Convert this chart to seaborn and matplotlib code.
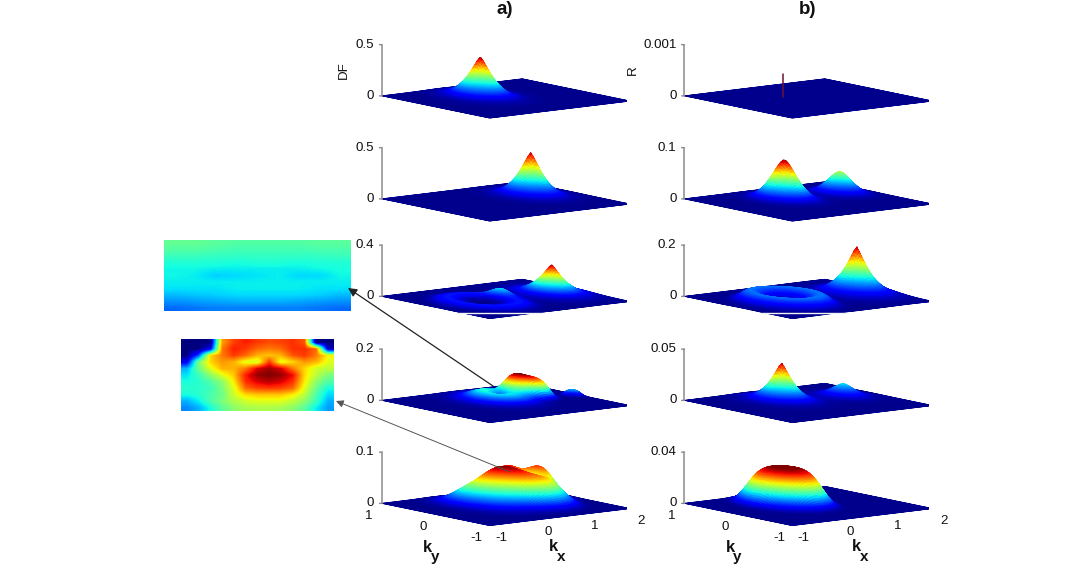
import numpy as np
import seaborn as sns
import matplotlib
matplotlib.use("Agg")
import matplotlib.pyplot as plt
from mpl_toolkits.mplot3d import proj3d

sns.set_theme(style="white")
plt.rcParams['font.family'] = ['Liberation Sans', 'DejaVu Sans']

JET = matplotlib.colormaps["jet"]

# ---- values ----
panel_names = ["a1", "a2", "a3", "a4", "a5", "b1", "b2", "b3", "b4", "b5"]
z_top = [0.5, 0.5, 0.4, 0.2, 0.1, 0.001, 0.1, 0.2, 0.05, 0.04]
z_top_label = ["0.5", "0.5", "0.4", "0.2", "0.1", "0.001", "0.1", "0.2", "0.05", "0.04"]
kx_ticks = [-1, 0, 1, 2]
ky_ticks = [-1, 0, 1]

# NOTE: the original surface data is not available. Each surface is an approximation:
# a sum of peaks, rings and dips whose position, height and width were estimated by eye
# from the picture, then adjusted to match it. They are not measured values.
# One row per visible feature of a surface.
bump_panel = ["a1", "a2",
              "a3", "a3", "a3",
              "a4", "a4", "a4", "a4", "a4",
              "a5", "a5", "a5", "a5", "a5", "a5",
              "b2", "b2",
              "b3", "b3", "b3",
              "b4", "b4",
              "b5"]
bump_kx = [.25, 1.2,
           1.44, -.1, .5,
           1.15, .7, 1.82, .5, .52,
           .9, 1.12, .1, 1.0, .3, 1.5,
           .28, 1.4,
           1.47, -.1, -.1,
           .27, 1.36,
           .26]
bump_ky = [.26, .15,
           -.03, -.1, .09,
           .18, .25, -.09, .2, .17,
           .05, .08, .35, .45, 0, .2,
           .26, .2,
           -.05, -.1, -.1,
           .3, .1,
           .23]
bump_height = [.39, .42,
               .23, .03, .05,
               .075, .012, .025, .03, -.018,
               .06, -.024, .025, .012, .03, .034,
               .078, .044,
               .185, .04, .012,
               .037, .013,
               .029]
bump_width = [.24, .23,
              .24, .22, .18,
              .34, .22, .14, .45, .14,
              .62, .17, .35, .3, .4, .25,
              .26, .25,
              .24, .2, .4,
              .22, .24,
              .57]
bump_radius = [0, 0,
               0, .5, 0,
               0, .28, 0, 0, 0,
               0, 0, 0, 0, 0, 0,
               0, 0,
               0, .5, 0,
               0, 0,
               0]
bump_power = [1.3, 1.3,
              1.2, 2, 2,
              4, 2, 3, 2, 2,
              3.5, 2, 2, 2, 2, 2,
              1.6, 1.7,
              1.2, 2, 2,
              1.25, 1.5,
              4]

spike_kx, spike_ky, spike_height = [.25], [.26], [.00045]

# inset colours, as estimated positions on the jet scale
inset_top = np.array([
    [.47, .47, .46, .45, .45, .45, .45, .46, .46],
    [.45, .45, .44, .43, .43, .43, .43, .44, .44],
    [.42, .42, .41, .41, .41, .41, .41, .41, .42],
    [.39, .39, .39, .38, .39, .39, .38, .39, .39],
    [.37, .37, .36, .36, .36, .36, .36, .37, .38],
    [.37, .36, .33, .34, .35, .36, .34, .34, .37],
    [.36, .36, .36, .36, .36, .36, .36, .36, .36],
    [.35, .35, .35, .36, .36, .36, .36, .35, .35],
    [.31, .32, .33, .34, .34, .34, .34, .33, .31],
    [.27, .28, .29, .30, .30, .30, .29, .28, .27],
    [.23, .24, .25, .25, .25, .25, .25, .24, .23]])
inset_low = np.array([
    [0, 0, 0, .74, .84, .88, .85, .83, .84, .86, .82, 0, 0],
    [0, 0, .1, .78, .88, .85, .8, .78, .8, .86, .86, .8, .05],
    [0, .2, .68, .78, .85, .8, .72, .7, .72, .82, .85, .78, .65],
    [.1, .5, .68, .75, .72, .62, .6, .85, .62, .68, .75, .72, .62],
    [.3, .48, .62, .72, .72, .78, .92, .97, .92, .78, .68, .6, .58],
    [.35, .42, .52, .62, .7, .88, .98, 1, .98, .9, .68, .58, .5],
    [.38, .4, .45, .52, .66, .86, .92, .95, .92, .86, .66, .52, .45],
    [.4, .4, .42, .5, .62, .8, .84, .85, .84, .8, .62, .48, .38],
    [.38, .4, .44, .48, .6, .68, .7, .7, .7, .66, .58, .44, .34],
    [.3, .36, .44, .5, .56, .6, .62, .62, .62, .58, .52, .42, .3],
    [.26, .3, .38, .46, .52, .55, .56, .56, .55, .52, .46, .36, .28]])

# ---- layout (pixels of the 1086x574 picture) ----
W, H = 1086, 574
fig = plt.figure(figsize=(W / 100, H / 100), dpi=100, facecolor="white")
SIDE = 248.0
COL_X = {"a": 382.0, "b": 684.5}
ROW_Y = {"1": 96.0, "2": 199.0, "3": 296.5, "4": 400.5, "5": 503.5}
TXT = "#111111"
TICK_FS = 9.6
kx_grid = np.linspace(-1, 2, 121)
ky_grid = np.linspace(-1, 1, 81)
KX, KY = np.meshgrid(kx_grid, ky_grid)


def surface(name):
    Z = np.zeros_like(KX)
    for i, p in enumerate(bump_panel):
        if p != name:
            continue
        r = np.hypot(KX - bump_kx[i], KY - bump_ky[i])
        Z += bump_height[i] * np.exp(-(np.abs(r - bump_radius[i]) / bump_width[i]) ** bump_power[i])
    return np.clip(Z, 0, None)


def label3d(ax, x, y, z, text, dx, dy, **kw):
    px, py, _ = proj3d.proj_transform(x, y, z, ax.get_proj())
    ax.annotate(text, xy=(px, py), xycoords="data", xytext=(dx, dy),
                textcoords="offset pixels", color=TXT, annotation_clip=False, **kw)


for name, ztop, ztl in zip(panel_names, z_top, z_top_label):
    cx = COL_X[name[0]] + 124
    cy = ROW_Y[name[1]] + 2.35 - 25.5
    left = cx - 0.5135 * SIDE
    bottom = cy + 0.5135 * SIDE
    ax = fig.add_axes([left / W, 1 - bottom / H, SIDE / W, SIDE / H],
                      projection="3d", proj_type="ortho", computed_zorder=False)
    ax.view_init(elev=9.1, azim=-127.5)
    ax.set_box_aspect((176, 176, 51.6))
    ax.set_xlim(-1, 2)
    ax.set_ylim(-1, 1)
    ax.set_zlim(0, ztop)
    ax.set_axis_off()
    ax.patch.set_alpha(0)

    Z = surface(name)
    vmax = Z.max() if Z.max() > 0 else ztop
    ax.plot_surface(KX, KY, Z, facecolors=JET(0.012 + 0.988 * Z / vmax), rstride=1, cstride=1,
                    linewidth=0.6, antialiased=True, shade=False, zorder=1)
    if name == "b1":
        ax.plot([spike_kx[0]] * 2, [spike_ky[0]] * 2, [0, spike_height[0]],
                color="#6d1238", lw=1.1, zorder=2)

    ax.plot([-1, -1], [1, 1], [0, ztop], color="#8c8c8c", lw=1.1, zorder=3)
    for zt, zl in ((0, "0"), (ztop, ztl)):
        ax.plot([-1, -1.04], [1, 1.02], [zt, zt], color="#8c8c8c", lw=1.0, zorder=3)
        label3d(ax, -1, 1, zt, zl, -8, 0, ha="right", va="center", fontsize=TICK_FS)
    if name[1] == "1":
        label3d(ax, -1, 1, ztop / 2, "DF" if name[0] == "a" else "R",
                -38 if name[0] == "a" else -52, 0,
                ha="center", va="center", rotation=90, fontsize=TICK_FS)
    if name[1] == "5":
        for t in ky_ticks:
            label3d(ax, -1, t, 0, str(t), -13, -12.5, ha="center", va="center", fontsize=TICK_FS)
        for t in kx_ticks:
            label3d(ax, t, -1, 0, str(t), 11.5, -12, ha="center", va="center", fontsize=TICK_FS)
        label3d(ax, -1, 0, 0, "k", -8, -33, ha="center", va="center", fontsize=12, fontweight="bold")
        label3d(ax, -1, 0, 0, "y", -1, -43, ha="center", va="center", fontsize=11, fontweight="bold")
        label3d(ax, 0, -1, 0, "k", 17, -27, ha="center", va="center", fontsize=12, fontweight="bold")
        label3d(ax, 0, -1, 0, "x", 25, -37, ha="center", va="center", fontsize=11, fontweight="bold")

# overlay in picture pixels: insets, arrows, titles
ov = fig.add_axes([0, 0, 1, 1], zorder=20)
ov.patch.set_alpha(0)
ov.imshow(inset_top, extent=(164, 351, 311, 240), cmap=JET, vmin=0, vmax=1,
          aspect="auto", interpolation="bilinear")
ov.imshow(inset_low, extent=(181, 334, 411, 339), cmap=JET, vmin=0, vmax=1,
          aspect="auto", interpolation="bilinear")
ov.set_xlim(0, W)
ov.set_ylim(H, 0)
ov.set_axis_off()
ov.annotate("", xy=(348, 288), xytext=(493, 386),
            arrowprops=dict(arrowstyle="-|>", color="#222222", lw=0.9, shrinkA=0, shrinkB=0,
                            mutation_scale=13))
ov.annotate("", xy=(336, 401), xytext=(510, 472),
            arrowprops=dict(arrowstyle="-|>", color="#555555", lw=0.7, shrinkA=0, shrinkB=0,
                            mutation_scale=11))
ov.plot([458, 542], [313.3, 313.3], color="#f2f2f2", lw=1.0)
ov.plot([761, 845], [313.3, 313.3], color="#f2f2f2", lw=1.0)
ov.text(505, 9, "a)", ha="center", va="center", fontsize=13.5, fontweight="bold", color=TXT)
ov.text(808, 9, "b)", ha="center", va="center", fontsize=13.5, fontweight="bold", color=TXT)

fig.savefig("out.png", dpi=100, facecolor="white")
